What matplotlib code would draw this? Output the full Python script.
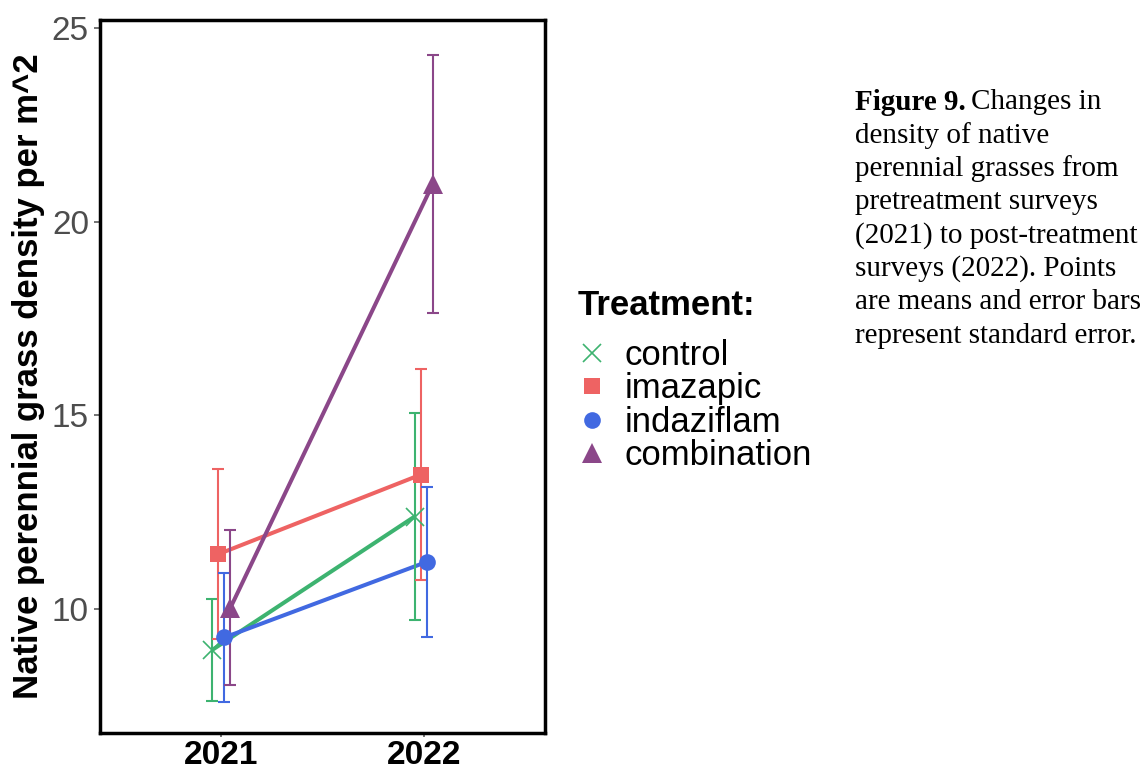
import matplotlib
matplotlib.use("Agg")
import matplotlib.pyplot as plt
from matplotlib.lines import Line2D
import numpy as np

plt.rcParams["font.family"] = ["Liberation Sans", "DejaVu Sans"]

# Survey years and treatment groups
years = ["2021", "2022"]
treatments = ["control", "imazapic", "indaziflam", "combination"]

# Mean native perennial grass density (per m^2) and standard error
control_mean = [8.95, 12.39]
control_se = [1.32, 2.67]
imazapic_mean = [11.42, 13.47]
imazapic_se = [2.19, 2.72]
indaziflam_mean = [9.27, 11.22]
indaziflam_se = [1.66, 1.94]
combination_mean = [10.04, 20.97]
combination_se = [2.00, 3.33]

means = [control_mean, imazapic_mean, indaziflam_mean, combination_mean]
ses = [control_se, imazapic_se, indaziflam_se, combination_se]

colors = ["#3DB370", "#EE6363", "#4169E1", "#8B4789"]
markers = ["x", "s", "o", "^"]
msizes = [13, 12, 12, 15]
offsets = [-0.045, -0.015, 0.015, 0.045]

W, H = 1147, 771
fig = plt.figure(figsize=(W / 100, H / 100), dpi=100)
ax = fig.add_axes([0.0872, 0.049, 0.388, 0.925])

xbase = np.arange(1, len(years) + 1)
for m, s, c, mk, ms, off in zip(means, ses, colors, markers, msizes, offsets):
    x = xbase + off
    ax.plot(x, m, color=c, lw=2.9, zorder=2, solid_capstyle="butt")
    ax.errorbar(x, m, yerr=s, fmt="none", ecolor=c, elinewidth=1.5,
                capsize=4, capthick=1.5, zorder=3)
    ax.plot(x, m, linestyle="none", marker=mk, color=c, markersize=ms,
            markeredgewidth=1.2 if mk == "x" else 0, zorder=4)

ax.set_xlim(0.4, 2.6)
ax.set_ylim(6.8, 25.2)
ax.set_xticks(xbase)
ax.set_xticklabels(years, fontsize=24, fontweight="bold", color="black")
ax.set_yticks([10, 15, 20, 25])
ax.tick_params(axis="y", labelsize=24, labelcolor="#4D4D4D", color="#4D4D4D",
               length=4, width=1.1, pad=4)
ax.tick_params(axis="x", color="#4D4D4D", length=3, width=1.1, pad=2)
for sp in ax.spines.values():
    sp.set_linewidth(2.5)
    sp.set_color("black")
ax.set_ylabel("Native perennial grass density per m^2", fontsize=25,
              fontweight="bold", labelpad=5)

# Legend: title drawn separately, entries below it
fig.text(578 / W, 1 - 306 / H, "Treatment:", fontsize=25, fontweight="bold",
         va="center", ha="left")
handles = [Line2D([], [], linestyle="none", marker=mk, color=c,
                  markersize=ms, markeredgewidth=1.2 if mk == "x" else 0)
           for c, mk, ms in zip(colors, markers, msizes)]
leg = fig.legend(handles, treatments, loc="upper left",
                 bbox_to_anchor=(578 / W, 1 - 339 / H), frameon=False,
                 fontsize=25, handlelength=0.8, handletextpad=0.55,
                 labelspacing=0.01, borderpad=0, borderaxespad=0)

# Caption
caption_lines = [
    "Changes in",
    "density of native",
    "perennial grasses from",
    "pretreatment surveys",
    "(2021) to post-treatment",
    "surveys (2022). Points",
    "are means and error bars",
    "represent standard error.",
]
fx = 855 / W
y0 = 1 - 102 / H
dy = 33.4 / H
t = fig.text(fx, y0, "Figure 9.", fontsize=21, fontweight="bold",
             family="Liberation Serif", va="center", ha="left")
fig.canvas.draw()
bb = t.get_window_extent()
fig.text(bb.x1 / fig.bbox.width + 0.005, y0, caption_lines[0], fontsize=21,
         family="Liberation Serif", va="center", ha="left")
for i, line in enumerate(caption_lines[1:], start=1):
    fig.text(fx, y0 - i * dy, line, fontsize=21, family="Liberation Serif",
             va="center", ha="left")

fig.savefig("out.png", dpi=100)
